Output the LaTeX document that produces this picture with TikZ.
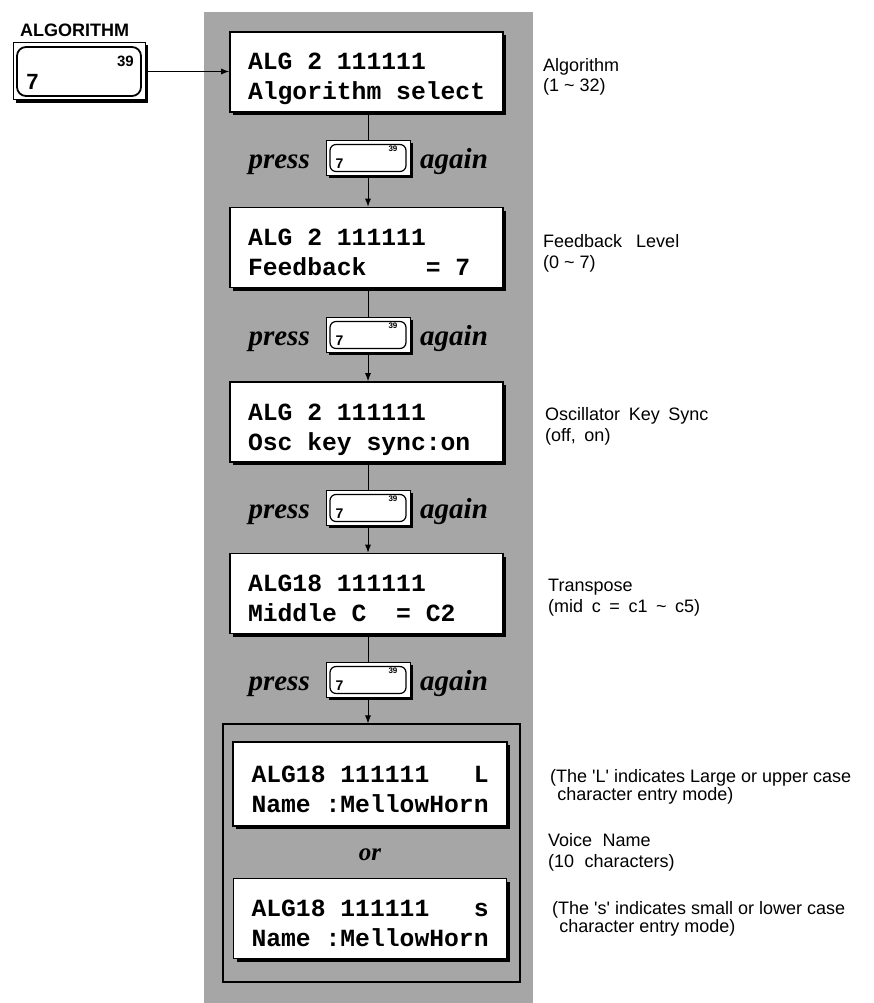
\documentclass[tikz,border=0pt]{standalone}
\usepackage{fontspec}
\setmainfont{Liberation Sans}
\newfontfamily\lcdfont{Liberation Mono}
\newfontfamily\keyfont{Liberation Serif}
\usetikzlibrary{arrows.meta,shadows}

% two display lines with fixed room above and below
\newcommand\lcdlines[2]{\rule{0pt}{32pt}#1\\#2\rule[-6pt]{0pt}{6pt}}
% one empty character cell of the display
\newcommand\lcdsp{\hspace*{0.6em}}

\begin{document}
\begin{tikzpicture}[
    x=1pt,y=-1pt,
    panel/.style={fill=black!35,draw=none},
    lcd/.style={draw,line width=1.6pt,fill=white,minimum width=273pt,minimum height=80pt,
                inner xsep=18pt,inner ysep=0pt,text width=237pt,align=left,
                font=\lcdfont\bfseries\fontsize{24.7}{30}\selectfont,
                drop shadow={shadow xshift=3pt,shadow yshift=-3pt,fill=black,opacity=1}},
    keyframe/.style={draw,line width=0.8pt,fill=white,minimum width=84pt,minimum height=35pt,
                inner sep=0pt,
                drop shadow={shadow xshift=2.5pt,shadow yshift=-2.5pt,fill=black,opacity=1}},
    keyface/.style={draw,line width=1.2pt,rounded corners=6pt,minimum width=76pt,
                minimum height=27pt,inner sep=0pt},
    keydigit/.style={font=\bfseries\fontsize{14}{14}\selectfont,inner sep=0pt},
    keytiny/.style={font=\bfseries\fontsize{8}{8}\selectfont,inner sep=0pt},
    press/.style={font=\keyfont\bfseries\itshape\fontsize{29}{29}\selectfont,inner sep=0pt},
    link/.style={line width=0.9pt},
    flow/.style={line width=0.9pt,-{Latex[length=8pt,width=6pt]}},
    note/.style={font=\fontsize{18}{20.5}\selectfont,align=left,inner sep=0pt,anchor=base west}
]
    \useasboundingbox (0,0) rectangle (873,1003);

    % Shaded strip behind the chain of displays.
    \fill[panel] (204,12) rectangle (533,1003);

    % The ALGORITHM key that starts the chain.
    \node[font=\bfseries\fontsize{18}{18}\selectfont,inner sep=0pt,anchor=base west]
        (algLabel) at (20,37) {ALGORITHM};
    \node[keyframe,minimum width=132pt,minimum height=57pt,line width=1pt,
          drop shadow={shadow xshift=3pt,shadow yshift=-3pt,fill=black,opacity=1}]
        (algKey) at (79,71.5) {};
    \node[keyface,minimum width=124pt,minimum height=49pt,line width=1.8pt,rounded corners=9pt]
        (algFace) at (algKey.center) {};
    \node[font=\bfseries\fontsize{22}{22}\selectfont,inner sep=0pt,anchor=south west,
          xshift=10pt,yshift=7pt] (algSeven) at (algFace.south west) {7};
    \node[font=\bfseries\fontsize{15}{15}\selectfont,inner sep=0pt,anchor=north east,
          xshift=-8pt,yshift=-10pt] (algCode) at (algFace.north east) {39};

    % Display pages, one per press of the key.
    \node[lcd] (lcdAlg) at (366.5,72)
        {\lcdlines{ALG\lcdsp 2\lcdsp 111111}{Algorithm\lcdsp select}};
    \node[lcd] (lcdFbk) at (366.5,247.5)
        {\lcdlines{ALG\lcdsp 2\lcdsp 111111}{Feedback\lcdsp\lcdsp\lcdsp\lcdsp =\lcdsp 7}};
    \node[lcd] (lcdOsc) at (366.5,422)
        {\lcdlines{ALG\lcdsp 2\lcdsp 111111}{Osc\lcdsp key\lcdsp sync:on}};
    \node[lcd] (lcdTrn) at (366.5,593.5)
        {\lcdlines{ALG18\lcdsp 111111}{Middle\lcdsp C\lcdsp\lcdsp =\lcdsp C2}};

    % The two name pages share one frame.
    \node[draw,line width=1.1pt,minimum width=297pt,minimum height=258pt,inner sep=0pt]
        (nameFrame) at (371.5,853) {};
    \node[lcd,minimum width=274pt,minimum height=84pt] (lcdUpper) at (370,784)
        {\lcdlines{ALG18\lcdsp 111111\lcdsp\lcdsp\lcdsp L}{Name\lcdsp :MellowHorn}};
    \node[press,font=\keyfont\bfseries\itshape\fontsize{25}{25}\selectfont]
        (orText) at (370,855) {or};
    \node[lcd] (lcdLower) at (370,918.5)
        {\lcdlines{ALG18\lcdsp 111111\lcdsp\lcdsp\lcdsp s}{Name\lcdsp :MellowHorn}};

    % Small keys between the pages.
    \node[keyframe] (keyA) at (368,158) {};
    \node[keyframe] (keyB) at (368,335) {};
    \node[keyframe] (keyC) at (368,508) {};
    \node[keyframe] (keyD) at (368,680) {};
    \node[keyface] (faceA) at (keyA.center) {};
    \node[keyface] (faceB) at (keyB.center) {};
    \node[keyface] (faceC) at (keyC.center) {};
    \node[keyface] (faceD) at (keyD.center) {};
    \node[keydigit,anchor=south west,xshift=6pt,yshift=3pt] (sevenA) at (faceA.south west) {7};
    \node[keydigit,anchor=south west,xshift=6pt,yshift=3pt] (sevenB) at (faceB.south west) {7};
    \node[keydigit,anchor=south west,xshift=6pt,yshift=3pt] (sevenC) at (faceC.south west) {7};
    \node[keydigit,anchor=south west,xshift=6pt,yshift=3pt] (sevenD) at (faceD.south west) {7};
    \node[keytiny,anchor=north east,xshift=-9pt,yshift=-2pt] (codeA) at (faceA.north east) {39};
    \node[keytiny,anchor=north east,xshift=-9pt,yshift=-2pt] (codeB) at (faceB.north east) {39};
    \node[keytiny,anchor=north east,xshift=-9pt,yshift=-2pt] (codeC) at (faceC.north east) {39};
    \node[keytiny,anchor=north east,xshift=-9pt,yshift=-2pt] (codeD) at (faceD.north east) {39};

    % press ... again around each key.
    \node[press,anchor=base east] (pressA) at (310,168.5) {press};
    \node[press,anchor=base west] (againA) at (420,168.5) {again};
    \node[press,anchor=base east] (pressB) at (310,345.5) {press};
    \node[press,anchor=base west] (againB) at (420,345.5) {again};
    \node[press,anchor=base east] (pressC) at (310,518.5) {press};
    \node[press,anchor=base west] (againC) at (420,518.5) {again};
    \node[press,anchor=base east] (pressD) at (310,690.5) {press};
    \node[press,anchor=base west] (againD) at (420,690.5) {again};

    % Connectors.
    \draw[flow] (algKey.east) -- (algKey.east -| lcdAlg.west);
    \draw[link] (keyA.north) -- (keyA.north |- lcdAlg.south);
    \draw[flow] (keyA.south) -- (keyA.south |- lcdFbk.north);
    \draw[link] (keyB.north) -- (keyB.north |- lcdFbk.south);
    \draw[flow] (keyB.south) -- (keyB.south |- lcdOsc.north);
    \draw[link] (keyC.north) -- (keyC.north |- lcdOsc.south);
    \draw[flow] (keyC.south) -- (keyC.south |- lcdTrn.north);
    \draw[link] (keyD.north) -- (keyD.north |- lcdTrn.south);
    \draw[flow] (keyD.south) -- (keyD.south |- nameFrame.north);

    % Notes at the right of each page (placed by their last line).
    \node[note] (noteAlg) at (543,92) {Algorithm\\(1 \textasciitilde{} 32)};
    \node[note] (noteFbk) at (543,268) {Feedback\hspace{0.5em} Level\\(0 \textasciitilde{} 7)};
    \node[note] (noteOsc) at (545,441) {Oscillator\hspace{0.2em} Key\hspace{0.2em} Sync\\(off,\hspace{0.2em} on)};
    \node[note] (noteTrn) at (548,612)
        {Transpose\\(mid\hspace{0.2em} c\hspace{0.2em} =\hspace{0.2em} c1\hspace{0.2em} \textasciitilde{}\hspace{0.2em} c5)};
    \node[note,font=\fontsize{18}{18}\selectfont] (noteUpper) at (550,800)
        {(The \textquotesingle L\textquotesingle{} indicates Large or upper case\\\hspace{0.4em}character entry mode)};
    \node[note] (noteName) at (548,867) {Voice\hspace{0.3em} Name\\(10\hspace{0.3em} characters)};
    \node[note,font=\fontsize{18}{18}\selectfont] (noteLower) at (552,932)
        {(The \textquotesingle s\textquotesingle{} indicates small or lower case\\\hspace{0.4em}character entry mode)};
\end{tikzpicture}
\end{document}
